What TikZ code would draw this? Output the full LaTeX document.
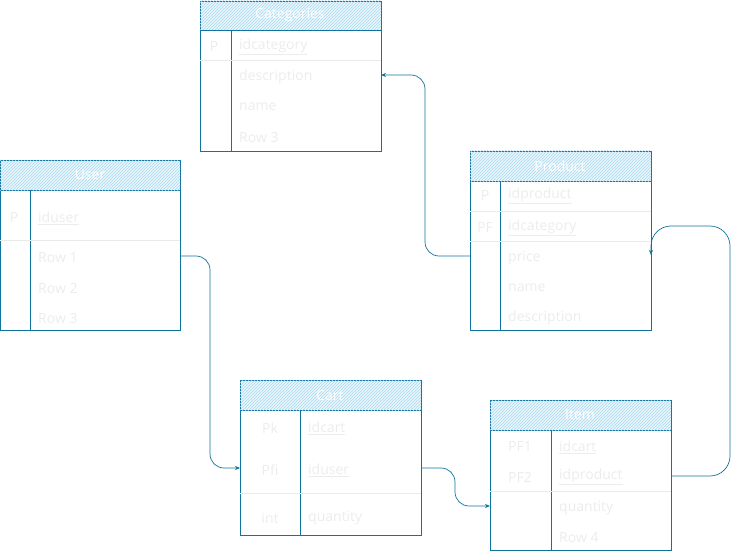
\documentclass[tikz,border=0pt]{standalone}
\usepackage{fontspec}
\setmainfont{Open Sans}
\usetikzlibrary{patterns,arrows.meta}
\definecolor{edge}{HTML}{10739E}
\definecolor{hatch}{HTML}{A9D9EF}
\definecolor{hfill}{HTML}{EAF6FC}
\definecolor{txt}{HTML}{ECECEC}
\definecolor{sep}{HTML}{EAEAEA}
\tikzset{
  tbl/.style={draw=edge, line width=0.9pt, anchor=north west, inner sep=0pt},
  hdr/.style={draw=edge, line width=0.9pt, fill=hfill, postaction={pattern=north east lines, pattern color=hatch}},
  ttl/.style={text=white, font=\fontsize{14}{16}\selectfont},
  fld/.style={text=txt, anchor=west, inner sep=0pt, font=\fontsize{14}{16}\selectfont},
  key/.style={text=txt, inner sep=0pt, font=\fontsize{14}{16}\selectfont},
  link/.style={draw=edge, line width=0.7pt, rounded corners=14pt, -{Stealth[length=5pt,width=4pt]}}
}
\begin{document}
\begin{tikzpicture}[x=1pt, y=-1pt]
  \useasboundingbox (0,0) rectangle (732,551);
  % tables
  \node[tbl, minimum width=181pt, minimum height=150pt] (cat) at (200,1) {};
  \node[tbl, minimum width=180pt, minimum height=170pt] (usr) at (0,160) {};
  \node[tbl, minimum width=181pt, minimum height=179pt] (prod) at (470,151) {};
  \node[tbl, minimum width=181pt, minimum height=155pt] (cart) at (240,380) {};
  \node[tbl, minimum width=181pt, minimum height=150pt] (item) at (490,400) {};
  % headers
  \draw[hdr] (cat.north west) rectangle ++(181,29);
  \draw[hdr] (usr.north west) rectangle ++(180,30);
  \draw[hdr] (prod.north west) rectangle ++(181,30);
  \draw[hdr] (cart.north west) rectangle ++(181,30);
  \draw[hdr] (item.north west) rectangle ++(181,30);
  \draw
    (290,15) node[ttl] (catT){Categories}
    (90,175) node[ttl] (usrT){User}
    (560,166) node[ttl] (prodT){Product}
    (330,395) node[ttl] (cartT){Cart}
    (580,415) node[ttl] (itemT){Item};
  % key columns
  \begin{scope}[draw=edge, line width=0.9pt]
    \draw (231,30) -- (231,151);
    \draw (30,190) -- (30,330);
    \draw (500,181) -- (500,330);
    \draw (300,410) -- (300,535);
    \draw (551,430) -- (551,550);
  \end{scope}
  % row separators
  \begin{scope}[draw=sep, line width=0.8pt]
    \draw (200,60) -- (381,60);
    \draw (0,240) -- (180,240);
    \draw (470,211) -- (651,211);
    \draw (470,241) -- (651,241);
    \draw (240,493) -- (421,493);
    \draw (490,491) -- (671,491);
  \end{scope}
  % Categories
  \draw
    (214,47) node[key] (catK1){P}
    (239,47) node[fld] (catF1){\underline{idcategory}}
    (239,77) node[fld] (catF2){description}
    (239,107) node[fld] (catF3){name}
    (239,137) node[fld] (catF4){Row 3};
  % User
  \draw
    (14,218) node[key] (usrK1){P}
    (38,218) node[fld] (usrF1){\underline{iduser}}
    (38,258) node[fld] (usrF2){Row 1}
    (38,288) node[fld] (usrF3){Row 2}
    (38,318) node[fld] (usrF4){Row 3};
  % Product
  \draw
    (485,196) node[key] (prodK1){P}
    (485,228) node[key] (prodK2){PF}
    (508,196) node[fld] (prodF1){\underline{idproduct}}
    (508,228) node[fld] (prodF2){\underline{idcategory}}
    (508,258) node[fld] (prodF3){price}
    (508,288) node[fld] (prodF4){name}
    (508,318) node[fld] (prodF5){description};
  % Cart
  \draw
    (270,428) node[key] (cartK1){Pk}
    (270,470) node[key] (cartK2){Pfi}
    (270,518) node[key] (cartK3){int}
    (308,428) node[fld] (cartF1){\underline{idcart}}
    (308,470) node[fld] (cartF2){\underline{iduser}}
    (308,518) node[fld] (cartF3){quantity};
  % Item
  \draw
    (520,447) node[key] (itemK1){PF1}
    (520,477) node[key] (itemK2){PF2}
    (559,447) node[fld] (itemF1){\underline{idcart}}
    (559,477) node[fld] (itemF2){\underline{idproduct}}
    (559,508) node[fld] (itemF3){quantity}
    (559,538) node[fld] (itemF4){Row 4};
  % ends of the links
  \coordinate (prodL) at (470,256);
  \coordinate (catR) at (381,75);
  \coordinate (usrR) at (180,256);
  \coordinate (cartL) at (240,468);
  \coordinate (cartR) at (421,468);
  \coordinate (itemL) at (490,506);
  \coordinate (itemR) at (671,476);
  \coordinate (prodR) at (651,255);
  \begin{scope}
    \draw[link] (prodL) -- ++(-45,0) |- (catR);
    \draw[link] (usrR) -- ++(30,0) |- (cartL);
    \draw[link] (cartR) -- ++(34,0) |- (itemL);
    \draw[link, rounded corners=20pt] (itemR) -- ++(59,0) |- ++(-79,-250) -- (prodR);
  \end{scope}
\end{tikzpicture}
\end{document}
